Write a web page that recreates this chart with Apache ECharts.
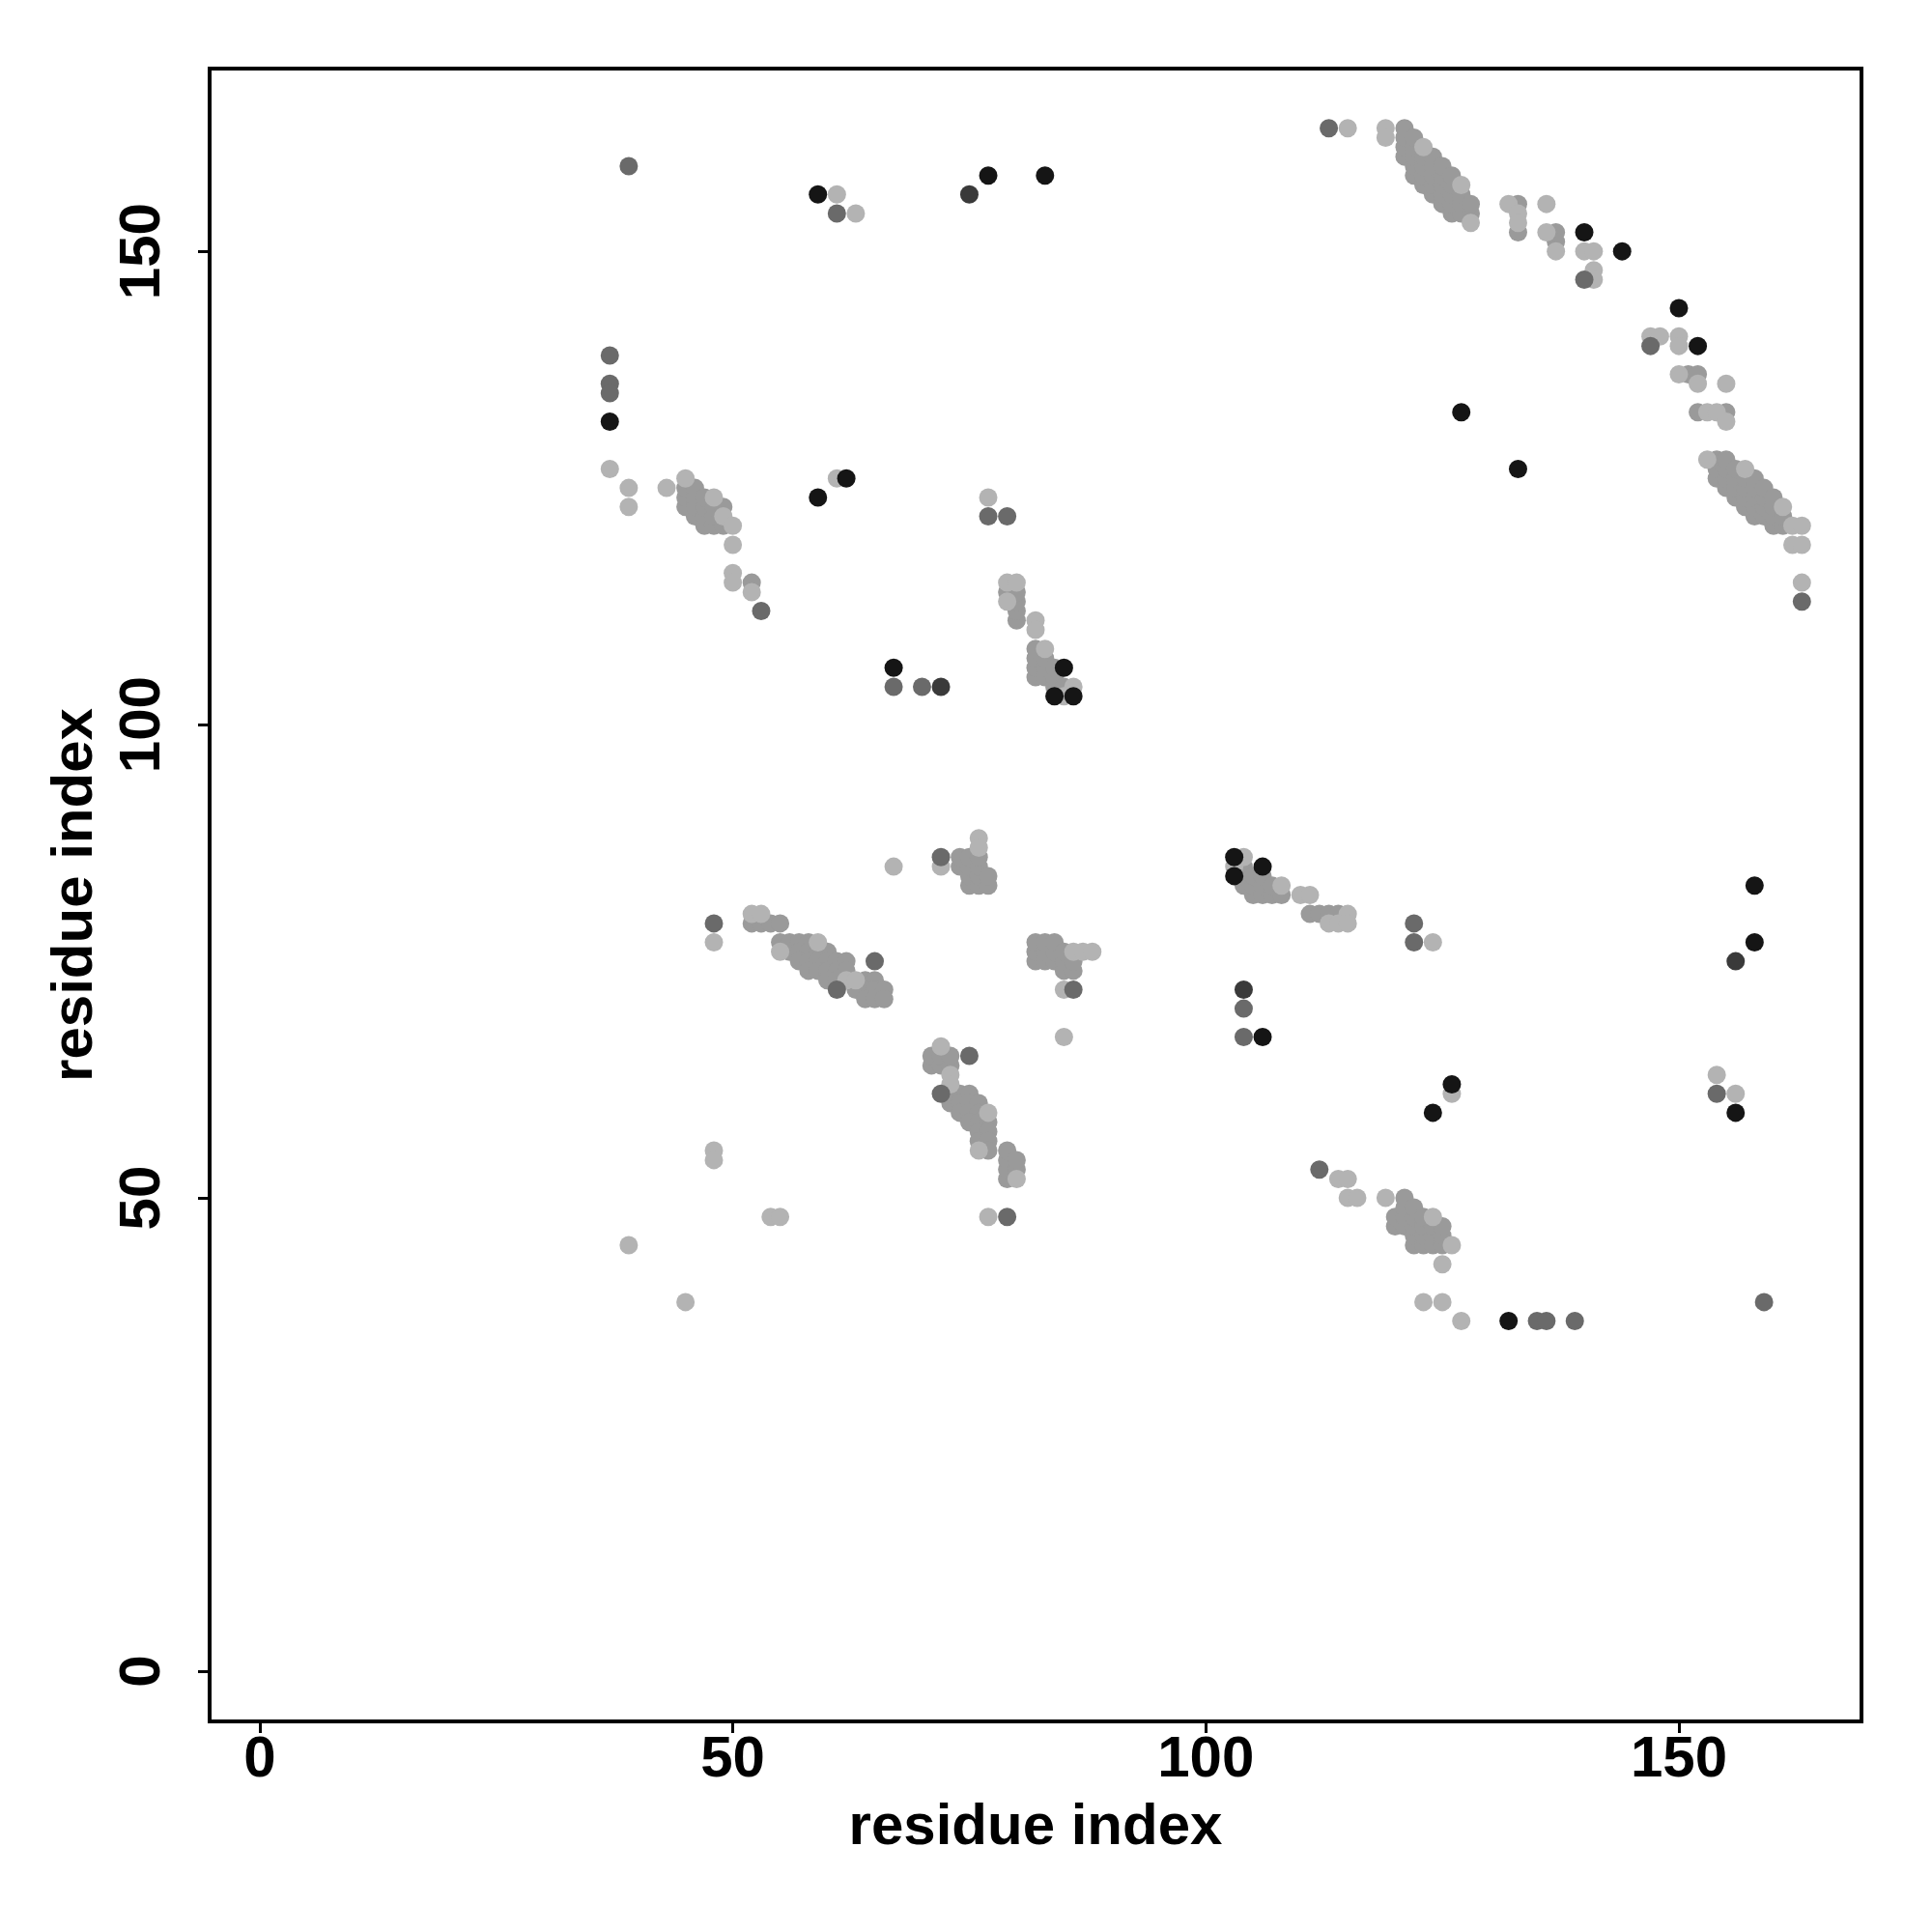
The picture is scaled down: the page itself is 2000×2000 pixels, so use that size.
<!DOCTYPE html>
<html><head><meta charset="utf-8">
<script src="https://cdn.jsdelivr.net/npm/echarts@6/dist/echarts.min.js"></script>
<style>html,body{margin:0;padding:0;background:#fff}#c{width:2000px;height:2000px}</style>
</head><body><div id="c"></div>
<script>
const tickValues = [0, 50, 100, 150];
const axisTitleX = 'residue index';
const axisTitleY = 'residue index';

const ptsMid = [
[121,160],[121,161],[121,162],[121,163],
[122,158],[122,159],[122,160],[122,161],[122,162],
[123,157],[123,158],[123,159],[123,160],
[124,156],[124,157],[124,158],[124,159],[124,160],
[125,155],[125,156],[125,157],[125,158],[125,159],
[126,154],[126,155],[126,156],[126,157],[126,158],
[127,154],[127,155],[127,156],
[128,154],[128,155],
[133,155],[133,152],[137,152],[137,151],[151,137],[152,137],[152,133],[155,133],
[154,126],[154,127],[154,128],
[155,125],[155,126],[155,127],[155,128],
[156,124],[156,125],[156,126],[156,127],
[157,123],[157,124],[157,125],[157,126],
[158,122],[158,123],[158,124],[158,125],[158,126],
[159,122],[159,123],[159,124],[159,125],
[160,121],[160,122],[160,123],[160,124],
[161,121],[161,122],
[45,123],[45,124],[45,125],[46,122],[46,123],[46,124],[46,125],
[47,121],[47,122],[47,123],[47,124],[48,121],[48,122],[48,123],[49,121],[49,123],[52,115],
[79,114],[80,111],[80,112],[80,113],[80,114],
[82,105],[82,106],[82,107],[82,108],[83,105],[83,106],[83,107],[84,104],[84,105],[84,106],[85,104],
[74,85],[74,86],[75,83],[75,84],[75,85],[75,86],[76,83],[76,84],[76,85],[76,86],[77,83],[77,84],
[82,75],[82,76],[82,77],[83,75],[83,76],[83,77],[84,75],[84,76],[84,77],[85,74],[85,75],[85,76],[86,74],[86,75],
[52,79],[53,79],[54,79],[55,79],
[55,77],[56,77],[57,77],[58,77],
[56,76],[57,76],[58,76],[59,76],[60,76],
[57,75],[58,75],[59,75],[60,75],[61,75],[62,75],
[58,74],[59,74],[60,74],[61,74],[62,74],
[60,73],[61,73],[64,73],[65,73],
[63,72],[64,72],[65,72],[66,72],
[64,71],[65,71],[66,71],
[71,64],[71,65],[72,64],[72,65],[73,64],[73,65],
[73,61],[74,61],[75,61],
[73,60],[74,60],[75,60],[76,60],
[74,59],[75,59],[76,59],
[75,58],[76,58],[77,58],
[76,57],[77,57],[76,56],[77,56],[77,55],
[79,52],[79,53],[79,54],[79,55],[80,53],[80,54],
[104,83],[104,84],[104,85],[105,82],[105,83],[105,84],[106,82],[106,83],[106,84],[107,82],[107,83],[108,82],
[111,80],[112,80],[113,80],[114,80],
[120,47],[120,48],[121,47],[121,48],[121,49],[121,50],
[122,45],[122,46],[122,47],[122,48],[122,49],
[123,45],[123,46],[123,47],[123,48],
[124,45],[124,46],[124,47],[125,45],[125,46],[125,47]
];

const ptsLight = [
[115,163],[119,163],[119,162],[123,161],[127,157],[128,153],[132,155],[133,154],[133,153],[136,155],
[136,152],[137,150],[140,150],[141,150],[141,148],[141,147],[147,141],[148,141],[150,141],[150,140],
[150,137],[152,136],[153,133],[154,133],[155,132],[155,136],[153,128],[157,127],[161,123],[162,121],
[163,121],[162,119],[163,119],[163,115],
[37,127],[39,125],[39,123],[43,125],[45,126],[48,124],[49,122],[50,121],[50,119],[50,116],[50,115],[52,114],
[61,156],[63,154],[61,126],[77,124],[79,115],[80,115],[79,113],[82,111],[82,110],[83,108],[86,104],[85,103],
[67,85],[48,77],[52,80],[53,80],[59,77],[55,76],[62,73],[63,73],[76,88],[76,87],[72,85],[72,66],
[73,63],[73,62],[77,59],[76,55],[80,52],[77,48],
[86,76],[87,76],[88,76],[85,72],[85,67],
[103,85],[104,86],[108,83],[110,82],[111,82],[115,80],[113,79],[114,79],[115,79],[124,77],
[126,61],[114,52],[115,52],[115,50],[116,50],[119,50],[124,48],[126,45],[125,43],[123,39],[125,39],[127,37],
[154,63],[156,61],
[48,55],[48,54],[54,48],[55,48],[39,45],[45,39]
];

const ptsDark = [
[113,163],[140,147],[147,140],[163,113],[37,139],[37,136],[37,135],[39,159],[61,154],[53,112],
[77,122],[79,122],[67,104],[70,104],[48,79],[65,75],[61,72],[72,86],[75,65],[72,61],[79,48],[86,72],
[122,79],[122,77],[104,70],[104,67],[112,53],[135,37],[136,37],[139,37],[154,61],[159,39]
];

const ptsDarker = [[75,156],[72,104],[104,72],[156,75]];

const ptsBlack = [
[59,156],[77,158],[83,158],[62,126],[59,124],[67,106],[85,106],[84,103],[86,103],
[140,152],[144,150],[150,144],[152,140],[127,133],[133,127],[37,132],
[103,86],[103,84],[106,85],[106,67],[126,62],[124,59],[132,37],[158,83],[158,77],[156,59]
];

const FONT = 'Liberation Sans';
const chart = echarts.init(document.getElementById('c'), null, {renderer: 'canvas'});
function sc(data, color) {
  return {type: 'scatter', data: data, symbol: 'circle', symbolSize: 19,
    itemStyle: {color: color, opacity: 1}, silent: true};
}
const labelStyle = {fontFamily: FONT, fontWeight: 'bold', fontSize: 60, color: '#000'};
const axisCommon = {
  type: 'value', min: -5.3, max: 169.3,
  splitLine: {show: false},
  axisLine: {show: false, onZero: false},
  axisTick: {show: true, length: 12, lineStyle: {color: '#000', width: 3}, customValues: tickValues},
  nameLocation: 'middle',
  nameTextStyle: labelStyle
};
chart.setOption({
  animation: false,
  backgroundColor: '#fff',
  grid: {left: 217, right: 73, top: 71, bottom: 218, show: true, borderColor: '#000', borderWidth: 4, backgroundColor: 'transparent'},
  xAxis: Object.assign({}, axisCommon, {
    name: axisTitleX, nameGap: 80,
    axisLabel: Object.assign({customValues: tickValues, margin: 10}, labelStyle)
  }),
  yAxis: Object.assign({}, axisCommon, {
    name: axisTitleY, nameGap: 109,
    axisLabel: Object.assign({customValues: tickValues, rotate: 90, margin: 39}, labelStyle)
  }),
  series: [
    sc(ptsMid, '#9a9a9a'),
    sc(ptsLight, '#b3b3b3'),
    sc(ptsDark, '#6a6a6a'),
    sc(ptsDarker, '#3a3a3a'),
    sc(ptsBlack, '#151515')
  ]
});
</script></body></html>
